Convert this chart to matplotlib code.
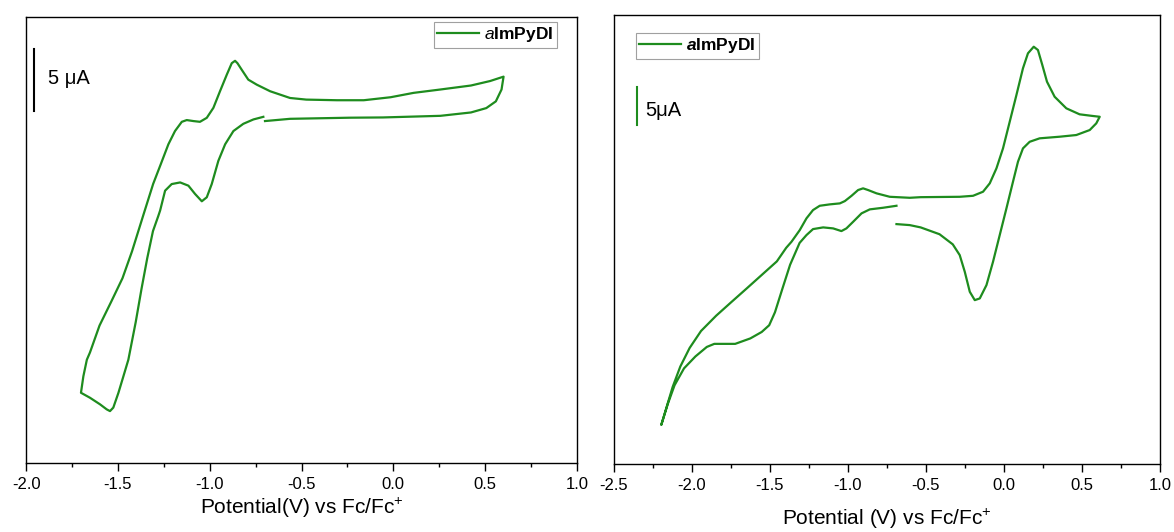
import matplotlib.pyplot as plt
from matplotlib.ticker import MultipleLocator

plt.rcParams['font.family'] = ['Liberation Sans', 'DejaVu Sans']
plt.rcParams['mathtext.fontset'] = 'custom'
plt.rcParams['mathtext.rm'] = 'Liberation Sans'
plt.rcParams['mathtext.it'] = 'Liberation Sans:italic'
plt.rcParams['mathtext.bf'] = 'Liberation Sans:bold'
plt.rcParams['mathtext.bfit'] = 'Liberation Sans:bold:italic'

GREEN = '#1e8c1e'

# scan 1: -0.7 V -> +0.6 V -> -1.7 V -> -0.7 V   (current in uA, arbitrary offset)
v_left = [-0.699, -0.5625, -0.236, -0.057, 0.256, 0.4225, 0.506, 0.558, 0.589, 0.600,
          0.527, 0.4225, 0.256, 0.110, -0.015, -0.161, -0.307, -0.474, -0.5625,
          -0.671, -0.744, -0.790, -0.826, -0.849, -0.862, -0.880, -0.907, -0.944,
          -0.980, -1.016, -1.053, -1.089, -1.125, -1.152, -1.189, -1.225, -1.270,
          -1.308, -1.360, -1.423, -1.475, -1.537, -1.600, -1.652, -1.669, -1.688,
          -1.701, -1.652, -1.597, -1.561, -1.543, -1.525, -1.497, -1.470, -1.443,
          -1.403, -1.371, -1.340, -1.309, -1.280, -1.270, -1.243, -1.207, -1.161,
          -1.116, -1.080, -1.043, -1.016, -0.989, -0.953, -0.916, -0.871, -0.817,
          -0.762, -0.708]
i_left = [0.01, 0.19, 0.28, 0.30, 0.43, 0.70, 1.05, 1.59, 2.54, 3.57,
          3.22, 2.86, 2.54, 2.27, 1.92, 1.68, 1.68, 1.73, 1.86,
          2.40, 2.93, 3.33, 4.13, 4.65, 4.84, 4.65, 3.73, 2.40,
          1.07, 0.27, -0.05, 0.01, 0.09, -0.05, -0.79, -1.85, -3.58,
          -5.03, -7.46, -10.43, -12.59, -14.49, -16.38, -18.54, -19.12, -20.45,
          -21.77, -22.17, -22.70, -23.10, -23.24, -22.96, -21.77, -20.45, -19.12,
          -16.11, -13.41, -10.97, -8.81, -7.60, -7.16, -5.57, -5.04, -4.91,
          -5.17, -5.83, -6.42, -6.10, -5.04, -3.18, -1.85, -0.79, -0.21,
          0.14, 0.35]

# scan 2: -0.7 V -> +0.6 V -> -2.2 V -> -0.7 V
v_right = [-0.689, -0.604, -0.534, -0.413, -0.328, -0.2835, -0.251, -0.219, -0.187,
           -0.155, -0.112, -0.070, -0.027, 0.016, 0.058, 0.090, 0.122, 0.165,
           0.229, 0.357, 0.464, 0.550, 0.592, 0.614,
           0.571, 0.485, 0.400, 0.325, 0.276, 0.246, 0.218, 0.191, 0.154,
           0.122, 0.080, 0.037, -0.006, -0.048, -0.091, -0.134, -0.198, -0.2835,
           -0.534, -0.604, -0.732, -0.817, -0.871, -0.903, -0.935, -0.977,
           -1.020, -1.052, -1.117, -1.181, -1.224, -1.266, -1.309, -1.362,
           -1.396, -1.456, -1.553, -1.650, -1.748, -1.845, -1.942, -2.015,
           -2.075, -2.124, -2.160, -2.197,
           -2.155, -2.112, -2.051, -1.978, -1.905, -1.857, -1.723, -1.626,
           -1.553, -1.505, -1.468, -1.420, -1.371, -1.310, -1.266, -1.224,
           -1.159, -1.095, -1.042, -1.010, -0.967, -0.913, -0.860, -0.775, -0.689]
i_right = [-3.55, -3.68, -3.98, -4.87, -6.19, -7.59, -9.77, -12.37, -13.46,
           -13.24, -11.50, -8.46, -4.98, -1.50, 1.97, 4.58, 6.32, 7.18,
           7.63, 7.84, 8.06, 8.71, 9.58, 10.44,
           10.54, 10.76, 11.54, 13.05, 15.01, 17.19, 19.14, 19.57, 18.71,
           16.76, 13.27, 9.79, 6.32, 3.72, 1.76, 0.67, 0.14, 0.01,
           -0.04, -0.12, 0.01, 0.46, 0.89, 1.11, 0.89, 0.14,
           -0.55, -0.85, -0.98, -1.16, -1.72, -2.80, -4.33, -5.85,
           -6.64, -8.41, -10.18, -11.95, -13.72, -15.49, -17.48, -19.69,
           -22.12, -24.78, -27.21, -29.73,
           -26.99, -24.56, -22.35, -20.80, -19.56, -19.16, -19.16, -18.45,
           -17.61, -16.73, -15.04, -11.95, -8.85, -6.00, -4.98, -4.20,
           -3.98, -4.11, -4.46, -4.11, -3.25, -2.15, -1.63, -1.42, -1.16]

SCALE_UA = 5


def style_axis(ax, xmin, xmax, xlabel, labelpad):
    ax.set_xlim(xmin, xmax)
    ax.xaxis.set_major_locator(MultipleLocator(0.5))
    ax.xaxis.set_minor_locator(MultipleLocator(0.25))
    ax.xaxis.set_major_formatter(lambda x, pos: '%.1f' % x)
    ax.tick_params(axis='x', which='major', direction='out', length=6, width=1,
                   labelsize=12, pad=4)
    ax.tick_params(axis='x', which='minor', direction='out', length=3, width=1)
    ax.set_yticks([])
    for s in ax.spines.values():
        s.set_linewidth(1.0)
    ax.set_xlabel(xlabel, fontsize=15, labelpad=labelpad)


def add_legend(ax, loc, anchor):
    leg = ax.legend(loc=loc, bbox_to_anchor=anchor, fontsize=12.5,
                    frameon=True, fancybox=False, handlelength=2.4,
                    handletextpad=0.3, borderpad=0.2, borderaxespad=0)
    leg.get_frame().set_edgecolor('#888888')
    leg.get_frame().set_linewidth(0.8)
    return leg


fig = plt.figure(figsize=(11.74, 5.32), dpi=100)

ax1 = fig.add_axes([0.0222, 0.1297, 0.4693, 0.8383])
ax1.plot(v_left, i_left, color=GREEN, lw=1.6, solid_joinstyle='round',
         label=r'$\mathit{a}\mathbf{ImPyDI}$')
ax1.set_ylim(-27.4, 8.35)
style_axis(ax1, -2.0, 1.0, r'Potential(V) vs Fc/Fc$^{+}$', 3)
ax1.plot([-1.956, -1.956], [0.8, 0.8 + SCALE_UA], color='black', lw=1.5)
ax1.text(-1.88, 3.4, '%d μA' % SCALE_UA, fontsize=14.5, va='center', ha='left')
add_legend(ax1, 'upper right', (0.9637, 0.9888))

ax2 = fig.add_axes([0.523, 0.1278, 0.465, 0.8448])
ax2.plot(v_right, i_right, color=GREEN, lw=1.6, solid_joinstyle='round',
         label=r'$\mathbfit{a}\mathbf{ImPyDI}$')
ax2.set_ylim(-34.82, 23.76)
style_axis(ax2, -2.5, 1.0, r'Potential (V) vs Fc/Fc$^{+}$', 10)
ax2.plot([-2.354, -2.354], [9.38, 9.38 + SCALE_UA], color=GREEN, lw=1.5)
ax2.text(-2.30, 11.3, '%dμA' % SCALE_UA, fontsize=14.5, va='center', ha='left')
add_legend(ax2, 'upper left', (0.0403, 0.959))

fig.savefig('out.png', dpi=100)
